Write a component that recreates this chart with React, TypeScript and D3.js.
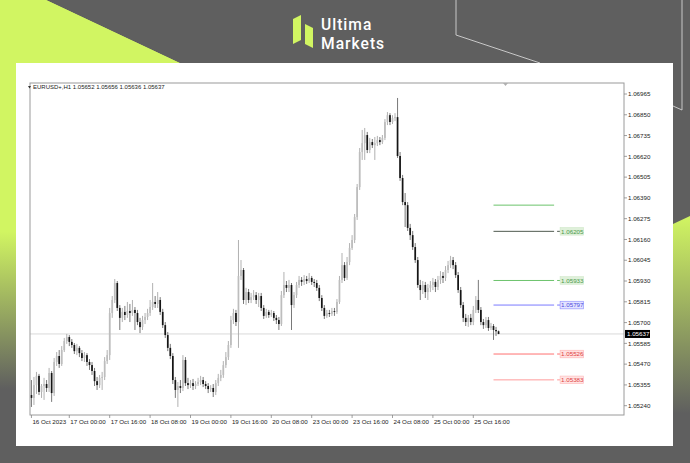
import React from 'react';
import * as d3 from 'd3';

const W = 690;
const H = 463;

const symbolTitle = 'EURUSD+,H1  1.05652 1.05656 1.05636 1.05637';
const firstOpen = 1.05299;
const closes = [
  1.05283, 1.05354, 1.05405, 1.05316, 1.05349, 1.0536, 1.05338, 1.05421, 1.0531, 1.05482,
  1.05515, 1.05471, 1.05548, 1.05598, 1.0562, 1.05593, 1.05576, 1.05542, 1.0556, 1.05531,
  1.05504, 1.0552, 1.05482, 1.05465, 1.05432, 1.05376, 1.05354, 1.05394, 1.05399, 1.05487,
  1.0552, 1.05753, 1.05825, 1.05919, 1.05781, 1.05726, 1.05759, 1.05742, 1.05764, 1.05753,
  1.0577, 1.05753, 1.05703, 1.05675, 1.05714, 1.05731, 1.05753, 1.05786, 1.05814, 1.05803,
  1.05825, 1.05759, 1.05686, 1.05631, 1.0556, 1.05515, 1.05382, 1.05327, 1.05349, 1.05338,
  1.05493, 1.05365, 1.05354, 1.05365, 1.05349, 1.0536, 1.05371, 1.05382, 1.0536, 1.05349,
  1.05332, 1.05338, 1.05316, 1.05365, 1.05394, 1.0541, 1.05465, 1.05509, 1.05576, 1.05714,
  1.05753, 1.05703, 1.05958, 1.05991, 1.05825, 1.05869, 1.05825, 1.05841, 1.05852, 1.05825,
  1.05847, 1.05781, 1.05737, 1.05759, 1.05742, 1.05753, 1.05726, 1.05714, 1.05692, 1.05852,
  1.05908, 1.05892, 1.05908, 1.05797, 1.05852, 1.05908, 1.05936, 1.05925, 1.05941, 1.0593,
  1.05947, 1.05925, 1.05919, 1.05892, 1.05836, 1.05781, 1.05737, 1.05753, 1.05748, 1.05764,
  1.05759, 1.05814, 1.05936, 1.06018, 1.05947, 1.06035, 1.06113, 1.06157, 1.06284, 1.0645,
  1.06644, 1.06693, 1.06738, 1.06655, 1.06699, 1.06682, 1.06693, 1.0671, 1.06699, 1.06722,
  1.0681, 1.06848, 1.0681, 1.06832, 1.06837, 1.06622, 1.065, 1.06367, 1.0635, 1.06224,
  1.06184, 1.06118, 1.06046, 1.05908, 1.0588, 1.05908, 1.05869, 1.05892, 1.05908, 1.05925,
  1.05897, 1.05936, 1.05958, 1.05947, 1.05991, 1.06018, 1.06046, 1.06018, 1.05963, 1.0588,
  1.05797, 1.05726, 1.05703, 1.05726, 1.05703, 1.0577, 1.05825, 1.0577, 1.05703, 1.05686,
  1.05714, 1.0567, 1.05681, 1.05659, 1.05652, 1.05637
];
const highs = [
  1.05382, 1.05399, 1.05427, 1.05416, 1.0536, 1.05394, 1.05382, 1.05449, 1.05432, 1.05504,
  1.05537, 1.05548, 1.0557, 1.05615, 1.05637, 1.05631, 1.05609, 1.05587, 1.05582, 1.0557,
  1.05548, 1.05537, 1.05531, 1.05498, 1.05482, 1.05449, 1.05399, 1.0541, 1.05427, 1.05509,
  1.05548, 1.05781, 1.05847, 1.05941, 1.0593, 1.05797, 1.05781, 1.05792, 1.05814, 1.05803,
  1.05825, 1.05786, 1.0577, 1.05726, 1.05737, 1.05753, 1.05776, 1.05825, 1.05919, 1.05847,
  1.05869, 1.05841, 1.05776, 1.05703, 1.05648, 1.05582, 1.05531, 1.05399, 1.05371, 1.05382,
  1.0552, 1.05509, 1.05394, 1.05382, 1.05388, 1.05376, 1.05394, 1.05405, 1.05399, 1.05376,
  1.05365, 1.05354, 1.0536, 1.05382, 1.05416, 1.05438, 1.05487, 1.05537, 1.05598, 1.05737,
  1.05776, 1.0577, 1.06157, 1.06046, 1.06002, 1.05892, 1.05886, 1.05864, 1.0588, 1.05869,
  1.05864, 1.05864, 1.05797, 1.05776, 1.0577, 1.0577, 1.05764, 1.05742, 1.05731, 1.05875,
  1.0598, 1.0593, 1.05936, 1.05919, 1.05869, 1.05925, 1.05958, 1.05952, 1.05963, 1.05958,
  1.05974, 1.05958, 1.05941, 1.05936, 1.05908, 1.05852, 1.05797, 1.0577, 1.0577, 1.05781,
  1.05781, 1.0583, 1.05958, 1.06085, 1.06035, 1.06063, 1.0614, 1.06184, 1.06301, 1.06467,
  1.06666, 1.06766, 1.06777, 1.06755, 1.06722, 1.06716, 1.06727, 1.06733, 1.06727, 1.06738,
  1.06826, 1.06865, 1.06859, 1.06848, 1.06859, 1.06943, 1.06644, 1.06517, 1.06417, 1.06367,
  1.06246, 1.06207, 1.0614, 1.06063, 1.05936, 1.0593, 1.05925, 1.05914, 1.0593, 1.05947,
  1.05941, 1.05958, 1.05985, 1.0598, 1.06013, 1.06041, 1.06069, 1.06063, 1.06035, 1.0598,
  1.05897, 1.05814, 1.05748, 1.05742, 1.05748, 1.05792, 1.05847, 1.05936, 1.05786, 1.0572,
  1.05731, 1.05731, 1.05698, 1.05692, 1.05676, 1.05656
];
const lows = [
  1.05233, 1.05244, 1.05305, 1.05299, 1.05283, 1.05272, 1.05316, 1.05316, 1.05261, 1.05294,
  1.0546, 1.05449, 1.0546, 1.05537, 1.05582, 1.0557, 1.0556, 1.05526, 1.0552, 1.05509,
  1.05487, 1.05482, 1.0546, 1.05438, 1.0541, 1.05349, 1.05327, 1.05338, 1.05327, 1.05382,
  1.05471, 1.05493, 1.05726, 1.05808, 1.05764, 1.05659, 1.05703, 1.05714, 1.05726, 1.05703,
  1.05737, 1.05659, 1.05686, 1.05642, 1.05659, 1.05692, 1.05714, 1.05737, 1.0577, 1.05781,
  1.05781, 1.05742, 1.0567, 1.05615, 1.05542, 1.05498, 1.0536, 1.05283, 1.05233, 1.0531,
  1.05321, 1.05349, 1.05332, 1.05338, 1.05327, 1.05332, 1.05349, 1.05354, 1.05343, 1.05332,
  1.0531, 1.05316, 1.05288, 1.05299, 1.05349, 1.05376, 1.05394, 1.05449, 1.05493, 1.0556,
  1.05692, 1.05681, 1.0556, 1.05936, 1.05803, 1.05797, 1.05808, 1.05808, 1.05825, 1.05803,
  1.05786, 1.05764, 1.0572, 1.05726, 1.05726, 1.05731, 1.05709, 1.05692, 1.05659, 1.05681,
  1.05836, 1.05869, 1.05869, 1.05659, 1.05781, 1.05836, 1.05892, 1.05903, 1.05908, 1.05914,
  1.05919, 1.05908, 1.05897, 1.05875, 1.05819, 1.05764, 1.0572, 1.05726, 1.05731, 1.05737,
  1.05737, 1.05748, 1.05803, 1.05919, 1.0593, 1.05936, 1.06018, 1.06102, 1.0614, 1.06268,
  1.06434, 1.066, 1.066, 1.06638, 1.06638, 1.06666, 1.066, 1.06677, 1.06682, 1.06688,
  1.0671, 1.06793, 1.06793, 1.06799, 1.06815, 1.06611, 1.06484, 1.0635, 1.06229, 1.06207,
  1.06157, 1.06102, 1.0603, 1.05892, 1.05825, 1.05858, 1.05836, 1.05825, 1.05869, 1.0588,
  1.05869, 1.0588, 1.05914, 1.05919, 1.0593, 1.05974, 1.06002, 1.05996, 1.05947, 1.05864,
  1.05781, 1.05703, 1.05681, 1.05676, 1.05686, 1.05686, 1.05753, 1.05753, 1.05686, 1.05665,
  1.0567, 1.05654, 1.05659, 1.05604, 1.05626, 1.05636
];

const xTickLabels = ['16 Oct 2023', '17 Oct 00:00', '17 Oct 16:00', '18 Oct 08:00', '19 Oct 00:00', '19 Oct 16:00', '20 Oct 08:00', '23 Oct 00:00', '23 Oct 16:00', '24 Oct 08:00', '25 Oct 00:00', '25 Oct 16:00'];
const xTickBars = [0, 15, 31, 47, 63, 79, 95, 111, 127, 143, 159, 175];
const yTickValues = [1.0524, 1.05355, 1.0547, 1.05585, 1.057, 1.05815, 1.0593, 1.06045, 1.0616, 1.06275, 1.0639, 1.06505, 1.0662, 1.06735, 1.0685, 1.06965];
const levelPrices = [1.0635, 1.06205, 1.05933, 1.05797, 1.05526, 1.05383];
const levelLabels = ['', '1.06205', '1.05933', '1.05797', '1.05526', '1.05383'];
const levelStartBar = 183;
const levelEndBar = 207;
const lastPrice = 1.05637;
const brandLines = ['Ultima', 'Markets'];

const levelStyles = [
  { line: '#6cc36c', text: '#4a9a4a', bg: '#dff0da', border: '#cfe8c9' },
  { line: '#4f5a4f', text: '#4a9a4a', bg: '#dff0da', border: '#cfe8c9' },
  { line: '#6cc36c', text: '#4a9a4a', bg: '#dff0da', border: '#cfe8c9' },
  { line: '#7a7aff', text: '#4a4ae0', bg: '#e4e4ff', border: '#8a8aff' },
  { line: '#ff7070', text: '#e04040', bg: '#ffe0e0', border: '#ffb0b0' },
  { line: '#ff9c9c', text: '#e04040', bg: '#ffe4e4', border: '#ffb8b8' },
];

const LIME = '#d1f562';
const GREY = '#5f5f5f';
const FONT = 'Liberation Sans, Arial, sans-serif';

export default function App() {
  const plot = { left: 30, right: 624, top: 83, bottom: 415 };
  const x = d3.scaleLinear().domain([15, 175]).range([69.3, 473.3]);
  const y = d3.scaleLinear().domain([1.0524, 1.06965]).range([405.7, 94]);
  const fmt = d3.format('.5f');
  const bodyW = 1.7;

  const candles = closes.map((c, i) => {
    const o = i === 0 ? firstOpen : closes[i - 1];
    return { i, o, c, h: highs[i], l: lows[i] };
  });

  return (
    <svg width={W} height={H} style={{ position: 'absolute', left: 0, top: 0, display: 'block' }} xmlns="http://www.w3.org/2000/svg">
      <defs>
        <linearGradient id="leftFade" x1="0" y1="0" x2="0" y2="1">
          <stop offset="0" stopColor={LIME} />
          <stop offset="0.5" stopColor={LIME} />
          <stop offset="0.84" stopColor={GREY} />
          <stop offset="1" stopColor={GREY} />
        </linearGradient>
        <linearGradient id="rightFade" x1="0" y1="0" x2="0" y2="1">
          <stop offset="0" stopColor={LIME} />
          <stop offset="0.8" stopColor={GREY} />
          <stop offset="1" stopColor={GREY} />
        </linearGradient>
      </defs>
      <rect x={0} y={0} width={W} height={H} fill={GREY} />
      <polygon points="0,0 46,0 220,82 16,82 16,463 0,463" fill="url(#leftFade)" />
      <polygon points="0,0 46,0 220,82 0,82" fill={LIME} />
      <polygon points="673,224 690,216 690,463 673,463" fill="url(#rightFade)" />
      <polyline points="456,0 456,35 540,63" fill="none" stroke="#c8c8c8" strokeWidth={1} />
      <polyline points="682,0 682,110 673,106" fill="none" stroke="#c8c8c8" strokeWidth={1} />

      {/* logo */}
      <polygon points="293,19 301,15 301,40 293,44" fill={LIME} />
      <polygon points="305,24 313,28 313,48 305,44" fill={LIME} />
      {brandLines.map((t, k) => (
        <text key={t} x={321} y={30 + k * 18.5} fill="#ffffff" fontFamily="Roboto, Arial, sans-serif" fontSize={15.6} letterSpacing={1} fontWeight={500}>{t}</text>
      ))}

      {/* panel */}
      <rect x={16} y={63} width={657} height={383} fill="#ffffff" />

      {/* last price line */}
      <line x1={plot.left} x2={plot.right} y1={y(lastPrice)} y2={y(lastPrice)} stroke="#d9d9d9" strokeWidth={1} />

      {/* candles */}
      {candles.map((d) => {
        const cx = x(d.i);
        const bull = d.c >= d.o;
        const top = y(Math.max(d.o, d.c));
        const bot = y(Math.min(d.o, d.c));
        return (
          <g key={d.i}>
            <line x1={cx} x2={cx} y1={y(d.h)} y2={y(d.l)} stroke={bull ? '#a8a8a8' : '#6a6a6a'} strokeWidth={0.9} />
            <rect x={cx - bodyW / 2} y={top} width={bodyW} height={Math.max(0.8, bot - top)} fill={bull ? '#bdbdbd' : '#151515'} />
          </g>
        );
      })}

      {/* levels */}
      {levelPrices.map((p, k) => {
        const st = levelStyles[k];
        const ly = y(p);
        const x1 = x(levelStartBar);
        const x2 = x(levelEndBar);
        return (
          <g key={k}>
            <line x1={x1} x2={x2} y1={ly} y2={ly} stroke={st.line} strokeWidth={1} />
            {levelLabels[k] && (
              <g>
                <line x1={x2 + 3} x2={x2 + 6} y1={ly} y2={ly} stroke={st.line} strokeWidth={1} />
                <rect x={x2 + 6} y={ly - 3.8} width={23.5} height={7.6} fill={st.bg} stroke={st.border} strokeWidth={0.6} />
                <text x={x2 + 7} y={ly + 2.3} fontSize={6.2} fontFamily={FONT} fill={st.text}>{levelLabels[k]}</text>
              </g>
            )}
          </g>
        );
      })}

      {/* frame */}
      <rect x={plot.left} y={plot.top} width={plot.right - plot.left} height={plot.bottom - plot.top} fill="none" stroke="#9a9a9a" strokeWidth={1} />
      <polygon points="503,83 508,83 505.5,86" fill="#b0b0b0" />

      {/* header */}
      <polygon points="28,86 31,86 29.5,88.5" fill="#333" />
      <text x={33} y={89.3} fontSize={6} fontFamily={FONT} fill="#222">{symbolTitle}</text>

      {/* y axis */}
      {yTickValues.map((v) => (
        <g key={v}>
          <line x1={plot.right} x2={plot.right + 3} y1={y(v)} y2={y(v)} stroke="#888" strokeWidth={0.8} />
          <text x={628} y={y(v) + 2.2} fontSize={6.2} fontFamily={FONT} fill="#222">{fmt(v)}</text>
        </g>
      ))}
      <rect x={625} y={y(lastPrice) - 4} width={25} height={8} fill="#000" />
      <text x={627} y={y(lastPrice) + 2.2} fontSize={6.2} fontFamily={FONT} fill="#fff">{fmt(lastPrice)}</text>

      {/* x axis */}
      {xTickBars.map((b, k) => (
        <g key={b}>
          <line x1={x(b)} x2={x(b)} y1={plot.bottom} y2={plot.bottom + 3} stroke="#888" strokeWidth={0.8} />
          <text x={x(b) + 1} y={424} fontSize={6.2} fontFamily={FONT} fill="#222">{xTickLabels[k]}</text>
        </g>
      ))}
    </svg>
  );
}
